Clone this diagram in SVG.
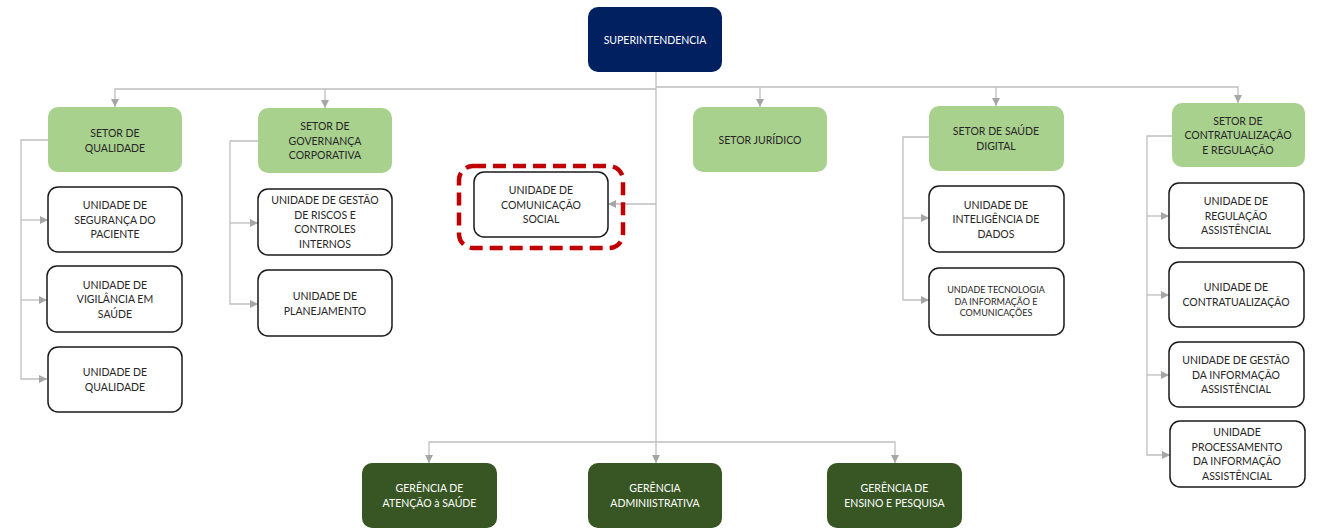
<svg xmlns="http://www.w3.org/2000/svg" width="1317" height="532" viewBox="0 0 1317 532">
<style>
.t{font-family:Lato,"Liberation Sans",sans-serif;font-size:10.5px;fill:#262626;text-anchor:middle}
.w{fill:#ffffff}
.s{font-size:9px}
.ln{fill:none;stroke:#BFBFBF;stroke-width:1.3}
.ar{marker-end:url(#ah)}
.navy{fill:#002060}
.lg{fill:#A9D18E}
.dg{fill:#375623}
.unit{fill:#ffffff;stroke:#1a1a1a;stroke-width:1.5}
.hl{fill:none;stroke:#C00000;stroke-width:4.5;stroke-dasharray:13 7}
</style>
<defs>
<marker id="ah" markerUnits="userSpaceOnUse" markerWidth="8" markerHeight="8" refX="8" refY="4" orient="auto" viewBox="0 0 8 8">
<path d="M0,0 L8,4 L0,8 z" fill="#A6A6A6"/>
</marker>
</defs>
<rect width="1317" height="532" fill="#ffffff"/>
<g id="connectors">
<path class="ln ar" d="M656,72 V463"/>
<path class="ln ar" d="M656,89 H115 V107"/>
<path class="ln ar" d="M325,89 V108"/>
<path class="ln ar" d="M656,87 H1238 V103"/>
<path class="ln ar" d="M760,87 V107"/>
<path class="ln ar" d="M996,87 V106"/>
<path class="ln ar" d="M656,204 H608"/>
<path class="ln ar" d="M656,442 H429 V463"/>
<path class="ln ar" d="M656,442 H895 V463"/>
<path class="ln ar" d="M48,140 H21 V379 H47"/>
<path class="ln ar" d="M21,220 H48"/>
<path class="ln ar" d="M21,300 H47"/>
<path class="ln ar" d="M258,141 H230 V304 H258"/>
<path class="ln ar" d="M230,223 H258"/>
<path class="ln ar" d="M929,137 H903 V300 H929"/>
<path class="ln ar" d="M903,218 H929"/>
<path class="ln ar" d="M1172,136 H1147 V455 H1170"/>
<path class="ln ar" d="M1147,216 H1169"/>
<path class="ln ar" d="M1147,295 H1169"/>
<path class="ln ar" d="M1147,375 H1169"/>
</g>
<g id="superintendencia">
<rect class="navy" x="588" y="7" width="134" height="65" rx="10"/>
<text class="t w" x="655" y="44">SUPERINTENDENCIA</text>
</g>
<g id="setor-qualidade">
<rect class="lg" x="48" y="107" width="134" height="65" rx="10"/>
<text class="t" x="115" y="137">SETOR DE<tspan x="115" dy="15">QUALIDADE</tspan></text>
</g>
<g id="setor-governanca">
<rect class="lg" x="258" y="108" width="134" height="65" rx="10"/>
<text class="t" x="325" y="130">SETOR DE<tspan x="325" dy="14.6">GOVERNANÇA</tspan><tspan x="325" dy="14.6">CORPORATIVA</tspan></text>
</g>
<g id="setor-juridico">
<rect class="lg" x="693" y="107" width="134" height="65" rx="10"/>
<text class="t" x="760" y="143.5">SETOR JURÍDICO</text>
</g>
<g id="setor-saude-digital">
<rect class="lg" x="929" y="106" width="135" height="65" rx="10"/>
<text class="t" x="996" y="134.5">SETOR DE SAÚDE<tspan x="996" dy="15">DIGITAL</tspan></text>
</g>
<g id="setor-contratualizacao">
<rect class="lg" x="1172" y="103" width="133" height="64" rx="10"/>
<text class="t" x="1238" y="124.5">SETOR DE<tspan x="1238" dy="14.6">CONTRATUALIZAÇÃO</tspan><tspan x="1238" dy="14.6">E REGULAÇÃO</tspan></text>
</g>
<g id="unidade-seguranca">
<rect class="unit" x="48" y="187" width="134" height="65" rx="10"/>
<text class="t" x="115" y="209">UNIDADE DE<tspan x="115" dy="14.6">SEGURANÇA DO</tspan><tspan x="115" dy="14.6">PACIENTE</tspan></text>
</g>
<g id="unidade-vigilancia">
<rect class="unit" x="47" y="266" width="135" height="66" rx="10"/>
<text class="t" x="115" y="288.5">UNIDADE DE<tspan x="115" dy="14.6">VIGILÂNCIA EM</tspan><tspan x="115" dy="14.6">SAÚDE</tspan></text>
</g>
<g id="unidade-qualidade">
<rect class="unit" x="48" y="347" width="134" height="65" rx="10"/>
<text class="t" x="115" y="376">UNIDADE DE<tspan x="115" dy="15">QUALIDADE</tspan></text>
</g>
<g id="unidade-riscos">
<rect class="unit" x="258" y="189" width="134" height="66" rx="10"/>
<text class="t" x="325" y="204">UNIDADE DE GESTÃO<tspan x="325" dy="14.5">DE RISCOS E</tspan><tspan x="325" dy="14.5">CONTROLES</tspan><tspan x="325" dy="14.5">INTERNOS</tspan></text>
</g>
<g id="unidade-planejamento">
<rect class="unit" x="258" y="270" width="134" height="66" rx="10"/>
<text class="t" x="325" y="300">UNIDADE DE<tspan x="325" dy="15">PLANEJAMENTO</tspan></text>
</g>
<g id="unidade-comunicacao">
<rect class="hl" x="459" y="166" width="164" height="82" rx="14"/>
<rect class="unit" x="474" y="172" width="134" height="65" rx="10"/>
<text class="t" x="541" y="194">UNIDADE DE<tspan x="541" dy="14.6">COMUNICAÇÃO</tspan><tspan x="541" dy="14.6">SOCIAL</tspan></text>
</g>
<g id="unidade-inteligencia">
<rect class="unit" x="929" y="186" width="135" height="66" rx="10"/>
<text class="t" x="996" y="208.5">UNIDADE DE<tspan x="996" dy="14.6">INTELIGÊNCIA DE</tspan><tspan x="996" dy="14.6">DADOS</tspan></text>
</g>
<g id="unidade-tecnologia">
<rect class="unit" x="929" y="268" width="135" height="67" rx="10"/>
<text class="t s" x="996" y="293">UNDADE TECNOLOGIA<tspan x="996" dy="11.7">DA INFORMAÇÃO E</tspan><tspan x="996" dy="11.7">COMUNICAÇÕES</tspan></text>
</g>
<g id="unidade-regulacao">
<rect class="unit" x="1169" y="183" width="135" height="65" rx="10"/>
<text class="t" x="1236" y="205">UNIDADE DE<tspan x="1236" dy="14.6">REGULAÇÃO</tspan><tspan x="1236" dy="14.6">ASSISTÊNCIAL</tspan></text>
</g>
<g id="unidade-contratualizacao">
<rect class="unit" x="1169" y="262" width="135" height="65" rx="10"/>
<text class="t" x="1236" y="291">UNIDADE DE<tspan x="1236" dy="15">CONTRATUALIZAÇÃO</tspan></text>
</g>
<g id="unidade-gestao-informacao">
<rect class="unit" x="1169" y="342" width="135" height="65" rx="10"/>
<text class="t" x="1236" y="364">UNIDADE DE GESTÃO<tspan x="1236" dy="14.6">DA INFORMAÇÃO</tspan><tspan x="1236" dy="14.6">ASSISTÊNCIAL</tspan></text>
</g>
<g id="unidade-processamento">
<rect class="unit" x="1170" y="421" width="135" height="66" rx="10"/>
<text class="t" x="1237" y="436">UNIDADE<tspan x="1237" dy="14.5">PROCESSAMENTO</tspan><tspan x="1237" dy="14.5">DA INFORMAÇÃO</tspan><tspan x="1237" dy="14.5">ASSISTÊNCIAL</tspan></text>
</g>
<g id="gerencia-atencao">
<rect class="dg" x="362" y="463" width="135" height="65" rx="10"/>
<text class="t w" x="429.5" y="492">GERÊNCIA DE<tspan x="429.5" dy="15">ATENÇÃO à SAÚDE</tspan></text>
</g>
<g id="gerencia-administrativa">
<rect class="dg" x="588" y="463" width="134" height="65" rx="10"/>
<text class="t w" x="655" y="492">GERÊNCIA<tspan x="655" dy="15">ADMINIISTRATIVA</tspan></text>
</g>
<g id="gerencia-ensino">
<rect class="dg" x="827" y="463" width="135" height="65" rx="10"/>
<text class="t w" x="894.5" y="492">GERÊNCIA DE<tspan x="894.5" dy="15">ENSINO E PESQUISA</tspan></text>
</g>
</svg>
